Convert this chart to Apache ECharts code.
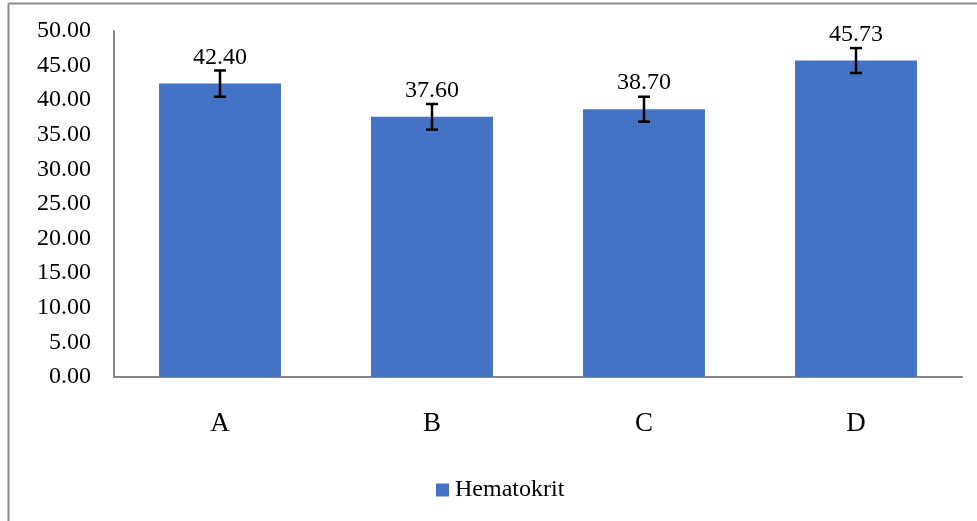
<!DOCTYPE html>
<html>
<head>
<meta charset="utf-8">
<script src="https://cdn.jsdelivr.net/npm/echarts@6/dist/echarts.min.js"></script>
<style>html,body{margin:0;padding:0;background:#fff}#c{width:977px;height:521px}</style>
</head>
<body>
<div id="c"></div>
<script>
const categories = ['A', 'B', 'C', 'D'];
const values = [42.40, 37.60, 38.70, 45.73];
const errors = [1.9, 1.85, 1.8, 1.8];
const yTicks = [0, 5, 10, 15, 20, 25, 30, 35, 40, 45, 50];
const seriesName = 'Hematokrit';

const font = 'Liberation Serif, Times New Roman, serif';
const chart = echarts.init(document.getElementById('c'), null, {renderer: 'canvas'});
chart.setOption({
  animation: false,
  backgroundColor: '#fff',
  graphic: [
    {type: 'line', shape: {x1: 8.5, y1: 3.5, x2: 977, y2: 3.5}, style: {stroke: '#8c8c8c', lineWidth: 2}},
    {type: 'line', shape: {x1: 8.5, y1: 3.5, x2: 8.5, y2: 521}, style: {stroke: '#8c8c8c', lineWidth: 2}}
  ],
  grid: {left: 114, right: 15, top: 31, bottom: 144, containLabel: false},
  legend: {
    data: [seriesName],
    top: 473,
    left: 431,
    itemWidth: 13,
    itemHeight: 13,
    itemGap: 6,
    icon: 'rect',
    textStyle: {fontFamily: font, fontSize: 24, color: '#000', padding: [0, 0, 0, 1]}
  },
  xAxis: {
    type: 'category',
    data: categories,
    axisLine: {lineStyle: {color: '#868686', width: 2}},
    axisTick: {show: false},
    axisLabel: {fontFamily: font, fontSize: 27, color: '#000', margin: 33}
  },
  yAxis: {
    type: 'value',
    min: yTicks[0],
    max: yTicks[yTicks.length - 1],
    interval: 5,
    axisLine: {show: true, lineStyle: {color: '#868686', width: 2}},
    axisTick: {show: false},
    splitLine: {show: false},
    axisLabel: {fontFamily: font, fontSize: 24, color: '#000', margin: 23,
      formatter: v => v.toFixed(2)}
  },
  series: [
    {
      name: seriesName,
      type: 'bar',
      data: values,
      barWidth: '57.5%',
      itemStyle: {color: '#4472C4'},
      label: {show: true, position: 'top', distance: 14,
        fontFamily: font, fontSize: 24, color: '#000',
        formatter: p => p.value.toFixed(2)}
    },
    {
      name: 'err',
      type: 'custom',
      data: values.map((v, i) => [i, v - errors[i], v + errors[i]]),
      z: 10,
      renderItem: function (params, api) {
        const lo = api.coord([api.value(0), api.value(1)]);
        const hi = api.coord([api.value(0), api.value(2)]);
        const x = lo[0], hw = 6;
        const st = {stroke: '#000', lineWidth: 2.5};
        return {type: 'group', children: [
          {type: 'line', shape: {x1: x, y1: hi[1], x2: x, y2: lo[1]}, style: st},
          {type: 'line', shape: {x1: x - hw, y1: hi[1], x2: x + hw, y2: hi[1]}, style: st},
          {type: 'line', shape: {x1: x - hw, y1: lo[1], x2: x + hw, y2: lo[1]}, style: st}
        ]};
      }
    }
  ]
});
</script>
</body>
</html>
